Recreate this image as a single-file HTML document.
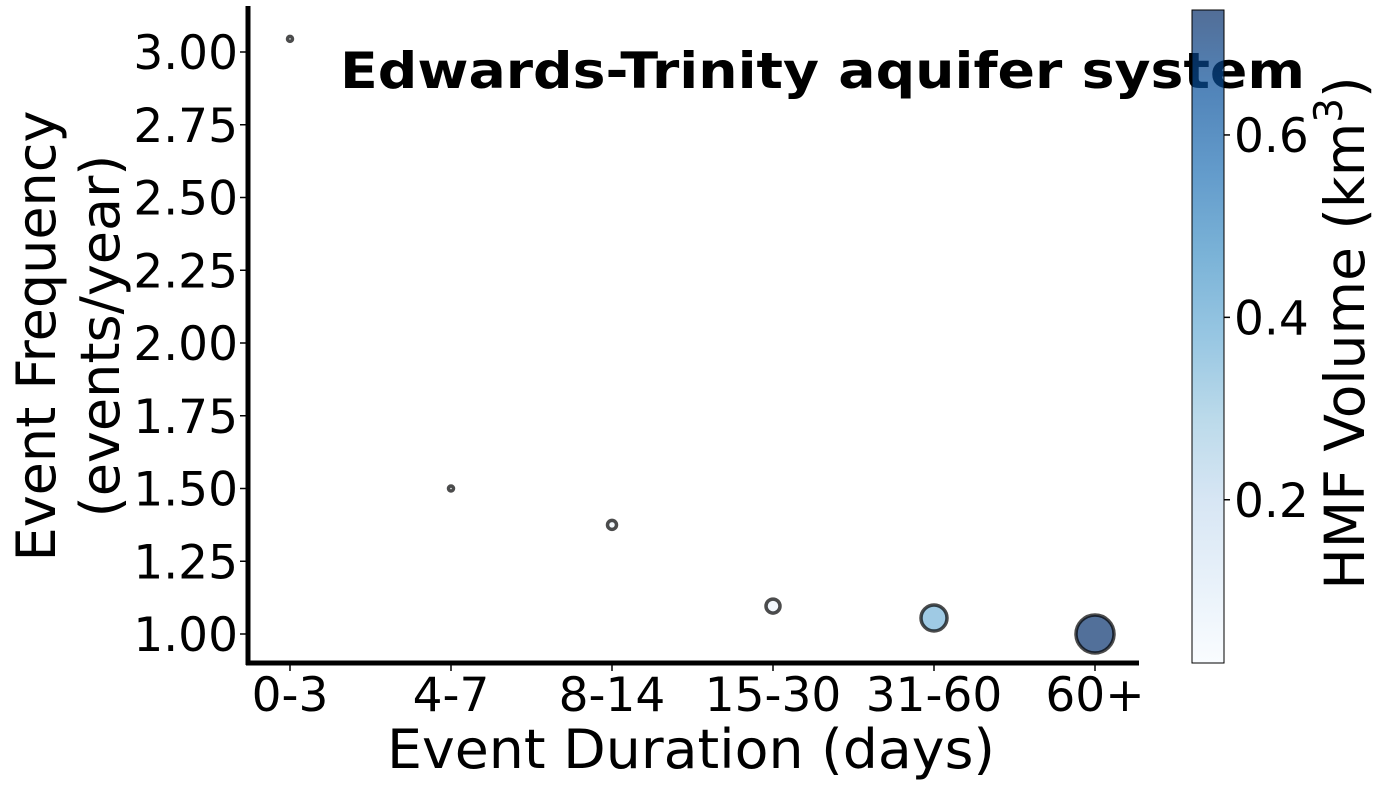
<!DOCTYPE html>
<html><head><meta charset="utf-8"><style>
body{margin:0;background:#fff;}
svg{display:block;font-family:"DejaVu Sans","Liberation Sans",sans-serif;}
</style></head><body>
<svg id="chart" width="1388" height="790">
<defs>
<linearGradient id="cb" x1="0" y1="1" x2="0" y2="0">
<stop offset="0" stop-color="#f7fbff"/><stop offset="0.125" stop-color="#deebf7"/>
<stop offset="0.25" stop-color="#c6dbef"/><stop offset="0.375" stop-color="#9ecae1"/>
<stop offset="0.5" stop-color="#6baed6"/><stop offset="0.625" stop-color="#4292c6"/>
<stop offset="0.75" stop-color="#2171b5"/><stop offset="0.875" stop-color="#08519c"/>
<stop offset="1" stop-color="#08306b"/>
</linearGradient>
</defs>
<g id="plot"></g>
</svg>
<script>
const categories=["0-3","4-7","8-14","15-30","31-60","60+"];
const frequencies=[3.045,1.50,1.375,1.096,1.055,1.0];
const volumes=[0.03,0.03,0.05,0.06,0.36,0.73];
const markerRadii=[2.5,2.5,4.5,7,13,19];
const yTicks=[1.00,1.25,1.50,1.75,2.00,2.25,2.50,2.75,3.00];
const cbTicks=[0.2,0.4,0.6];
const NS="http://www.w3.org/2000/svg";
const g=document.getElementById('plot');
function el(t,a,p){const e=document.createElementNS(NS,t);for(const k in a)e.setAttribute(k,a[k]);(p||g).appendChild(e);return e;}
const xS=i=>290+i*161;
const yS=v=>634-(v-1)*291;
const vmin=0.021,vmax=0.737;
const cbY=v=>663-(v-vmin)/(vmax-vmin)*653;
const stops=[[247,251,255],[222,235,247],[198,219,239],[158,202,225],[107,174,214],[66,146,198],[33,113,181],[8,81,156],[8,48,107]];
function blues(v){let t=Math.max(0,Math.min(1,(v-vmin)/(vmax-vmin)))*8;let i=Math.min(7,Math.floor(t)),f=t-i;
const c=stops[i].map((x,k)=>Math.round(x+(stops[i+1][k]-x)*f));return `rgb(${c.join(',')})`;}
let s=el('line',{x1:248,y1:6,x2:248,y2:665,stroke:'#000','stroke-width':5});

s=el('line',{x1:246,y1:663,x2:1139,y2:663,stroke:'#000','stroke-width':5});

yTicks.forEach(v=>{
 const y=yS(v);
 const tk=el('line',{x1:240,y1:y,x2:246,y2:y,stroke:'#000','stroke-width':1.5});
 
 const t=el('text',{x:238,y:y+17,'text-anchor':'end','font-size':47});t.textContent=v.toFixed(2);
 
});
categories.forEach((c,i)=>{
 const x=xS(i);
 const tk=el('line',{x1:x,y1:665,x2:x,y2:671,stroke:'#000','stroke-width':1.5});
 
 const t=el('text',{x:x,y:711,'text-anchor':'middle','font-size':47});t.textContent=c;
 
});
categories.forEach((c,i)=>{
 const p=el('circle',{cx:xS(i),cy:yS(frequencies[i]),r:markerRadii[i],fill:blues(volumes[i]),'fill-opacity':0.7,stroke:'rgba(0,0,0,0.7)','stroke-width':3.5});
 
});
let t=el('text',{x:340,y:88,'font-size':50,'font-weight':'bold',textLength:965,lengthAdjust:'spacingAndGlyphs'});t.textContent='Edwards-Trinity aquifer system';

t=el('text',{x:387,y:768,'font-size':54,textLength:608,lengthAdjust:'spacingAndGlyphs'});t.textContent='Event Duration (days)';

const yl=el('text',{transform:'translate(55,336) rotate(-90)','text-anchor':'middle','font-size':54});

let ts=el('tspan',{x:0,dy:0},yl);ts.textContent='Event Frequency';
ts=el('tspan',{x:0,dy:64},yl);ts.textContent='(events/year)';
const cb=el('rect',{x:1192,y:10,width:32,height:653,fill:'url(#cb)','fill-opacity':0.7,stroke:'#000','stroke-width':1});

cbTicks.forEach(v=>{
 const y=cbY(v);
 const tk=el('line',{x1:1224,y1:y,x2:1230,y2:y,stroke:'#000','stroke-width':1.5});
 
 const tt=el('text',{x:1234,y:y+17,'font-size':47});tt.textContent=v.toFixed(1);
 
});
const cl=el('text',{transform:'translate(1364,333) rotate(-90)','text-anchor':'middle','font-size':55});

let a=el('tspan',{},cl);a.textContent='HMF Volume (km';
a=el('tspan',{dy:-22,'font-size':39},cl);a.textContent='3';
a=el('tspan',{dy:22},cl);a.textContent=')';
</script>
</body></html>
